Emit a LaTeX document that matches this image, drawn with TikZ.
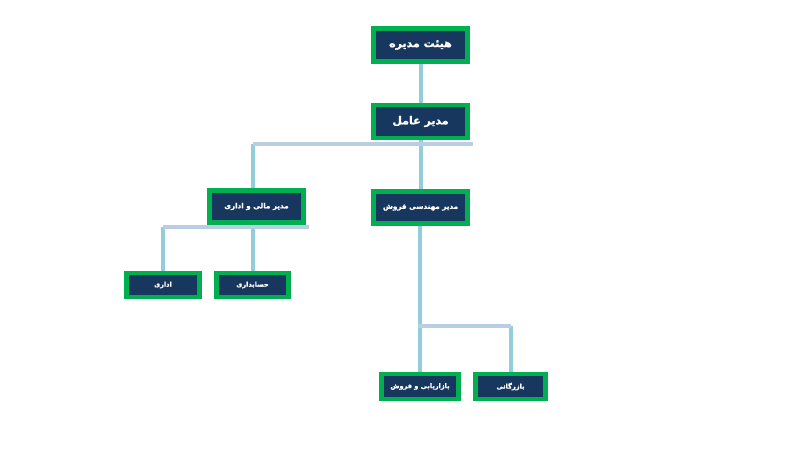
\documentclass[tikz,border=0pt]{standalone}
\usepackage{fontspec}
\newfontfamily\arabicfont[Script=Arabic, BoldFeatures={FakeBold=1.2}]{DejaVu Sans}
\TeXXeTstate=1
\usetikzlibrary{shadows,backgrounds}
\definecolor{boxnavy}{HTML}{17375E}
\definecolor{boxgreen}{HTML}{00B050}
\definecolor{vline}{HTML}{92CDDC}
\definecolor{hline}{HTML}{B9CDE5}
\tikzset{
  orgbox/.style={draw=boxgreen, line width=4.5pt, fill=boxnavy, text=white,
    inner sep=0pt, font=\arabicfont\bfseries,
    drop shadow={shadow xshift=1.5pt, shadow yshift=-1.5pt, fill=black!35, opacity=0.6}},
  bigbox/.style={orgbox, minimum width=94pt, minimum height=33pt, font=\arabicfont\bfseries\fontsize{11}{13}\selectfont},
  midbox/.style={orgbox, minimum width=94pt, minimum height=32pt, font=\arabicfont\bfseries\fontsize{7.2}{9}\selectfont},
  smallbox/.style={orgbox, minimum height=24pt, font=\arabicfont\bfseries\fontsize{6.6}{8}\selectfont},
  vconn/.style={draw=vline, line width=4pt},
  hconn/.style={draw=hline, line width=4pt},
}
\newcommand{\rtl}[1]{\beginR #1\endR}
\begin{document}
\begin{tikzpicture}[x=1pt,y=-1pt]
\useasboundingbox (0,0) rectangle (800,450);
% nodes
\node[bigbox] (board) at (420.5,45) {\rtl{هیئت مدیره}};
\node[bigbox] (ceo) at (420.5,121.5) {\rtl{مدیر عامل}};
\node[midbox] (fin) at (256.5,206.5) {\rtl{مدیر مالی و اداری}};
\node[midbox] (sales) at (420.5,207.5) {\rtl{مدیر مهندسی فروش}};
\node[smallbox, minimum width=73pt] (adm) at (163,285) {\rtl{اداری}};
\node[smallbox, minimum width=72pt] (acc) at (252.5,285) {\rtl{حسابداری}};
\node[smallbox, minimum width=77pt, minimum height=25pt] (mkt) at (420,386.5) {\rtl{بازاریابی و فروش}};
\node[smallbox, minimum width=70pt, minimum height=25pt] (com) at (510.5,386.5) {\rtl{بازرگانی}};
% bus coordinates
\coordinate (b1L) at (253,144);
\coordinate (b1R) at (473,144);
\coordinate (b2L) at (163,227);
\coordinate (b2R) at (309,227);
\coordinate (b3L) at (418,326);
\coordinate (b3R) at (511,326);
% connectors (behind nodes)
\begin{pgfonlayer}{background}
\fill[white] (0,0) rectangle (800,450);
\draw[vconn] (board.south) -- (ceo.north);
\draw[vconn] (ceo.south) -- (sales.north);
\draw[vconn] (b1L) -- (b1L |- fin.north);
\draw[hconn] (b1L) -- (b1R);
\draw[vconn] (b2L) -- (b2L |- adm.north);
\draw[vconn] (fin.south -| acc.north) -- (acc.north);
\draw[hconn] (b2L) -- (b2R);
\draw[vconn] (sales.south -| mkt.north) -- (mkt.north);
\draw[vconn] (b3R) -- (b3R |- com.north);
\draw[hconn] (b3L) -- (b3R);
\end{pgfonlayer}
\end{tikzpicture}
\end{document}
